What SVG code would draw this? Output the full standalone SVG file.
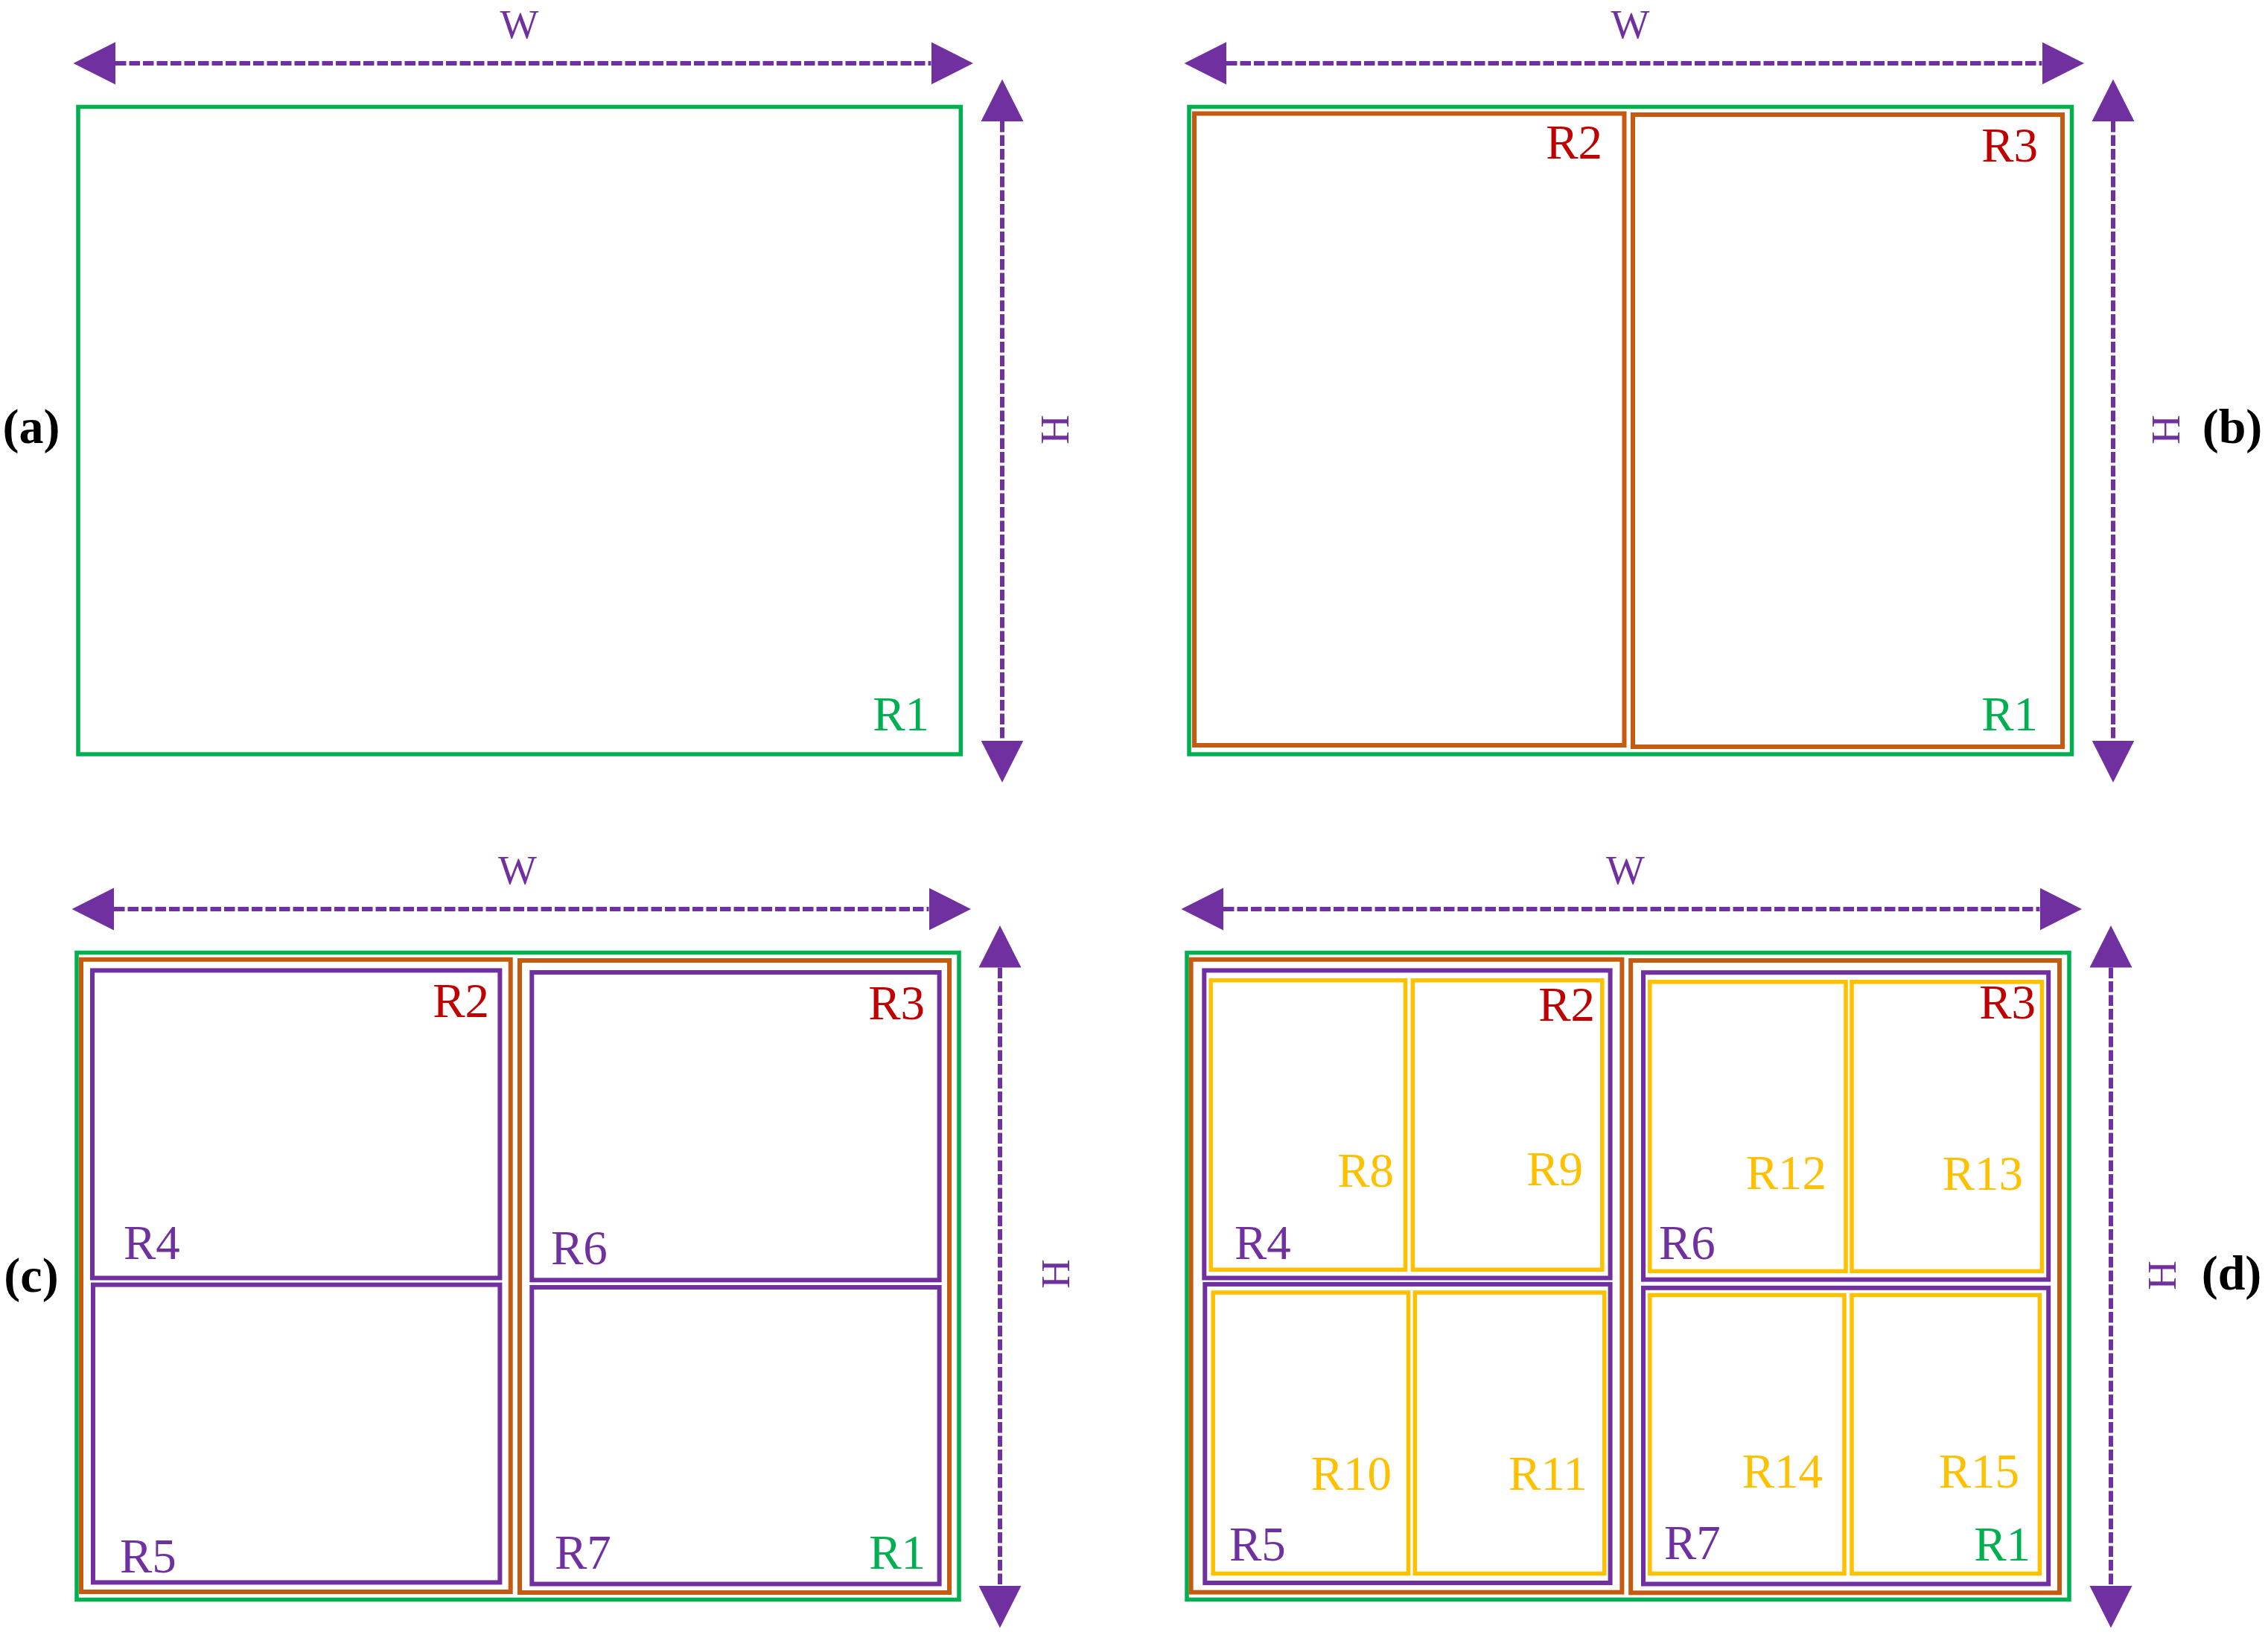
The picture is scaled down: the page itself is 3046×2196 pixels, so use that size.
<svg xmlns="http://www.w3.org/2000/svg" width="3046" height="2196" viewBox="0 0 3046 2196">
<style>
rect{fill:none}
.g{stroke:#00B050;stroke-width:5.5}
.o{stroke:#C55A11;stroke-width:6}
.p{stroke:#7030A0;stroke-width:6}
.y{stroke:#FFC000;stroke-width:5.5}
.dim{fill:none;stroke:#7030A0;stroke-width:6;stroke-dasharray:14.5 4;marker-start:url(#ah);marker-end:url(#ah)}
text{font-family:"Liberation Serif","Times New Roman",serif;font-size:65px}
.tg{fill:#00B050;text-anchor:end}
.tr{fill:#C00000;text-anchor:end}
.tp{fill:#7030A0}
.ty{fill:#FFC000;text-anchor:end}
.tw{fill:#7030A0;font-size:55px;text-anchor:middle}
.tb{fill:#000;font-weight:bold;font-size:66px;text-anchor:middle}
</style>
<defs>
<marker id="ah" markerUnits="userSpaceOnUse" markerWidth="60" markerHeight="60" viewBox="0 -30 60 60" refX="0" refY="0" orient="auto-start-reverse">
<path d="M0,-28.5 L56.5,0 L0,28.5 Z" fill="#7030A0"/>
</marker>
</defs>
<rect x="0" y="0" width="3046" height="2196" fill="#fff" style="fill:#fff"/>

<g id="connectors">
<line class="dim" x1="155" y1="85" x2="1250.5" y2="85"/>
<line class="dim" x1="1346" y1="163" x2="1346" y2="994.5"/>
<line class="dim" x1="1647" y1="85" x2="2742.5" y2="85"/>
<line class="dim" x1="2838" y1="163" x2="2838" y2="994.5"/>
<line class="dim" x1="153" y1="1221" x2="1247.5" y2="1221"/>
<line class="dim" x1="1343" y1="1299.5" x2="1343" y2="2130"/>
<line class="dim" x1="1643" y1="1221" x2="2739.5" y2="1221"/>
<line class="dim" x1="2835" y1="1299.5" x2="2835" y2="2130"/>
</g>

<g id="panel-a">
<g id="a-R1"><rect class="g" x="105" y="143.5" width="1185.3" height="869.5"/><text class="tg" x="1248" y="980.5">R1</text></g>
<text class="tw" x="697.5" y="50.5">W</text>
<text class="tw" transform="translate(1435,577) rotate(-90)">H</text>
<text class="tb" x="42" y="595">(a)</text>
</g>

<g id="panel-b">
<g id="b-R1"><rect class="g" x="1597" y="143.5" width="1185.5" height="869.5"/><text class="tg" x="2737" y="980.5">R1</text></g>
<g id="b-R2"><rect class="o" x="1604" y="152.5" width="577.5" height="848.5"/><text class="tr" x="2152" y="213">R2</text></g>
<g id="b-R3"><rect class="o" x="2193" y="154" width="577" height="849"/><text class="tr" x="2737" y="216.5">R3</text></g>
<text class="tw" x="2189.5" y="50.5">W</text>
<text class="tw" transform="translate(2927,577) rotate(-90)">H</text>
<text class="tb" x="2998" y="595">(b)</text>
</g>

<g id="panel-c">
<g id="c-R1"><rect class="g" x="103" y="1279.5" width="1185" height="869"/><text class="tg" x="1243" y="2106.5">R1</text></g>
<g id="c-R2"><rect class="o" x="109" y="1288.7" width="576.7" height="849.3"/><text class="tr" x="657" y="1365.5">R2</text></g>
<g id="c-R3"><rect class="o" x="698" y="1290" width="577" height="849"/><text class="tr" x="1242" y="1368.5">R3</text></g>
<g id="c-R4"><rect class="p" x="124" y="1303.4" width="547.4" height="413.1"/><text class="tp" x="166" y="1690.5">R4</text></g>
<g id="c-R5"><rect class="p" x="125" y="1725.6" width="546.4" height="399.8"/><text class="tp" x="161" y="2111.5">R5</text></g>
<g id="c-R6"><rect class="p" x="714.3" y="1306" width="547.3" height="413.3"/><text class="tp" x="740" y="1697.5">R6</text></g>
<g id="c-R7"><rect class="p" x="714.3" y="1729" width="547.3" height="398.5"/><text class="tp" x="745" y="2106.5">R7</text></g>
<text class="tw" x="695" y="1186.5">W</text>
<text class="tw" transform="translate(1436,1711) rotate(-90)">H</text>
<text class="tb" x="42" y="1735">(c)</text>
</g>

<g id="panel-d">
<g id="d-R1"><rect class="g" x="1594" y="1279.6" width="1185" height="868.8"/><text class="tg" x="2727" y="2096">R1</text></g>
<g id="d-R2"><rect class="o" x="1599.6" y="1288.7" width="578.8" height="849.9"/><text class="tr" x="2142" y="1370.5">R2</text></g>
<g id="d-R3"><rect class="o" x="2190.2" y="1290" width="575.8" height="849.3"/><text class="tr" x="2734" y="1367.5">R3</text></g>
<g id="d-R4"><rect class="p" x="1617.3" y="1303.4" width="545.3" height="413.1"/><text class="tp" x="1658" y="1690.5">R4</text></g>
<g id="d-R5"><rect class="p" x="1618.3" y="1724.9" width="544.3" height="401.1"/><text class="tp" x="1651" y="2096">R5</text></g>
<g id="d-R6"><rect class="p" x="2207" y="1306.2" width="544.2" height="412.4"/><text class="tp" x="2228" y="1690.5">R6</text></g>
<g id="d-R7"><rect class="p" x="2207" y="1729.8" width="544.2" height="397.7"/><text class="tp" x="2235" y="2094">R7</text></g>
<g id="d-R8"><rect class="y" x="1626.2" y="1316.7" width="261.3" height="388.6"/><text class="ty" x="1872" y="1594">R8</text></g>
<g id="d-R9"><rect class="y" x="1897.4" y="1316.7" width="254.4" height="388.6"/><text class="ty" x="2126" y="1591.5">R9</text></g>
<g id="d-R10"><rect class="y" x="1629.2" y="1736" width="262.3" height="377.5"/><text class="ty" x="1869" y="2000.5">R10</text></g>
<g id="d-R11"><rect class="y" x="1900.3" y="1736" width="254.4" height="377.5"/><text class="ty" x="2132" y="2000.5">R11</text></g>
<g id="d-R12"><rect class="y" x="2215.8" y="1318.8" width="263.2" height="388.6"/><text class="ty" x="2453" y="1596.5">R12</text></g>
<g id="d-R13"><rect class="y" x="2487" y="1318.8" width="255.4" height="388.6"/><text class="ty" x="2717" y="1597.5">R13</text></g>
<g id="d-R14"><rect class="y" x="2215.8" y="1739.5" width="261.2" height="374"/><text class="ty" x="2448" y="1998">R14</text></g>
<g id="d-R15"><rect class="y" x="2487" y="1739.5" width="252.4" height="374"/><text class="ty" x="2712" y="1998">R15</text></g>
<text class="tw" x="2183" y="1187">W</text>
<text class="tw" transform="translate(2922,1713) rotate(-90)">H</text>
<text class="tb" x="2997" y="1732">(d)</text>
</g>
</svg>
